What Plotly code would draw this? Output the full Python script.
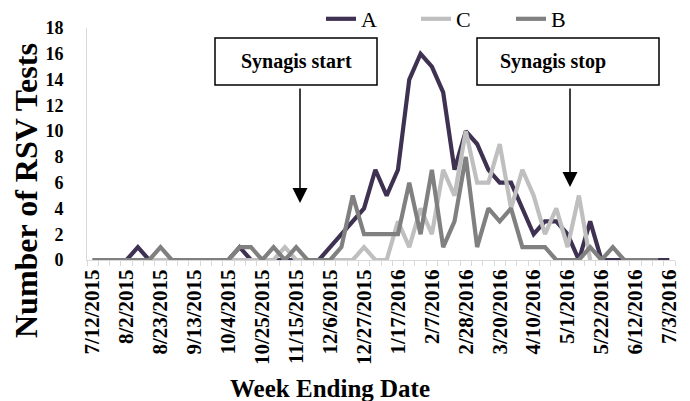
import plotly.graph_objects as go

weeks = ["7/12/2015", "7/19/2015", "7/26/2015", "8/2/2015", "8/9/2015", "8/16/2015",
         "8/23/2015", "8/30/2015", "9/6/2015", "9/13/2015", "9/20/2015", "9/27/2015",
         "10/4/2015", "10/11/2015", "10/18/2015", "10/25/2015", "11/1/2015", "11/8/2015",
         "11/15/2015", "11/22/2015", "11/29/2015", "12/6/2015", "12/13/2015", "12/20/2015",
         "12/27/2015", "1/3/2016", "1/10/2016", "1/17/2016", "1/24/2016", "1/31/2016",
         "2/7/2016", "2/14/2016", "2/21/2016", "2/28/2016", "3/6/2016", "3/13/2016",
         "3/20/2016", "3/27/2016", "4/3/2016", "4/10/2016", "4/17/2016", "4/24/2016",
         "5/1/2016", "5/8/2016", "5/15/2016", "5/22/2016", "5/29/2016", "6/5/2016",
         "6/12/2016", "6/19/2016", "6/26/2016", "7/3/2016"]

series_a = [0, 0, 0, 0, 1, 0, 0, 0, 0, 0, 0, 0, 0, 1, 0, 0, 0, 0, 0, 0,
            0, 1, 2, 3, 4, 7, 5, 7, 14, 16, 15, 13, 7, 10, 9, 7, 6, 6, 4, 2,
            3, 3, 2, 0, 3, 0, 0, 0, 0, 0, 0, 0]
series_c = [0, 0, 0, 0, 0, 0, 0, 0, 0, 0, 0, 0, 0, 0, 0, 0, 0, 1, 0, 0,
            0, 0, 0, 0, 1, 0, 0, 3, 1, 4, 2, 7, 5, 10, 6, 6, 9, 4, 7, 5,
            2, 4, 1, 5, 0]
series_b = [0, 0, 0, 0, 0, 0, 1, 0, 0, 0, 0, 0, 0, 1, 1, 0, 1, 0, 1, 0,
            0, 0, 1, 5, 2, 2, 2, 2, 6, 2, 7, 1, 3, 8, 1, 4, 3, 4, 1, 1,
            1, 0, 0, 0, 1, 0, 1, 0, 0, 0, 0]

series = [("A", series_a, "#3F3151"), ("C", series_c, "#BFBFBF"), ("B", series_b, "#808080")]
label_step = 3
y_ticks = list(range(0, 19, 2))

# page body has an 8px margin: the figure is drawn 8px right/down of the viewport origin
OFF = 8
W, H = 690 - OFF, 401 - OFF
L, R, T, B = 87 - OFF, 15, 28 - OFF, 141
PW, PH = W - L - R, H - T - B

def px(x):
    return (x - OFF - L) / PW

def py(y):
    return (H - B - (y - OFF)) / PH

FONT = "Liberation Serif"

fig = go.Figure()
for name, vals, color in series:
    fig.add_trace(go.Scatter(
        x=list(range(len(vals))), y=vals, name=name, mode="lines",
        line=dict(color=color, width=4.2), hoverinfo="skip"))

tick_idx = list(range(0, len(weeks), label_step))
fig.update_xaxes(
    range=[-0.5, len(weeks) - 0.5], showgrid=False, zeroline=False, automargin=False,
    showline=True, linecolor="#D9D9D9", linewidth=1,
    tickmode="array", tickvals=tick_idx,
    ticktext=[weeks[i] for i in tick_idx],
    tickangle=-90, ticks="", ticklen=0,
    tickfont=dict(family=FONT, size=21, color="black", weight="bold"),
    minor=dict(ticks="outside", tick0=0.5, dtick=1, ticklen=5,
               tickcolor="#D9D9D9", showgrid=False))
fig.update_yaxes(
    range=[0, 18], showgrid=False, zeroline=False, automargin=False,
    showline=True, linecolor="#D9D9D9", linewidth=1,
    tickmode="array", tickvals=y_ticks, ticktext=[str(v) for v in y_ticks],
    ticks="outside", ticklen=19, tickcolor="rgba(0,0,0,0)",
    tickfont=dict(family=FONT, size=18, color="black", weight="bold"))

anns = [
    dict(text="Number of RSV Tests", x=px(26), y=py(191), textangle=-90,
         font=dict(family=FONT, size=32, color="black", weight="bold")),
    dict(text="Week Ending Date", x=px(330), y=py(388),
         font=dict(family=FONT, size=25, color="black", weight="bold")),
    dict(text="Synagis start", x=px(296), y=py(61),
         font=dict(family=FONT, size=20, color="black", weight="bold")),
    dict(text="Synagis stop", x=px(553), y=py(61),
         font=dict(family=FONT, size=20, color="black", weight="bold")),
]
for a in anns:
    a.update(xref="paper", yref="paper", showarrow=False, xanchor="center", yanchor="middle")
    fig.add_annotation(**a)

for (x, ytip, ytail) in [(300, 203, 87), (570, 187, 87)]:
    fig.add_annotation(xref="paper", yref="paper", x=px(x), y=py(ytip), text="",
                       showarrow=True, ax=0, ay=ytail - ytip, arrowhead=2,
                       arrowsize=2, arrowwidth=1.5, arrowcolor="black", standoff=0)

for (x0, x1) in [(215, 377), (477, 659)]:
    fig.add_shape(type="rect", xref="paper", yref="paper",
                  x0=px(x0), x1=px(x1), y0=py(85), y1=py(38),
                  line=dict(color="black", width=1.5), fillcolor="rgba(0,0,0,0)")

fig.update_layout(
    width=W, height=H, margin=dict(l=L, r=R, t=T, b=B, autoexpand=False),
    paper_bgcolor="white", plot_bgcolor="white",
    font=dict(family=FONT, color="black"),
    showlegend=True,
    legend=dict(orientation="h", x=px(321), y=py(19), xanchor="left", yanchor="middle",
                font=dict(family=FONT, size=22, color="black"),
                bgcolor="rgba(0,0,0,0)", entrywidth=50, entrywidthmode="pixels",
                itemwidth=30, tracegroupgap=0),
)

fig.write_html("out.html")
